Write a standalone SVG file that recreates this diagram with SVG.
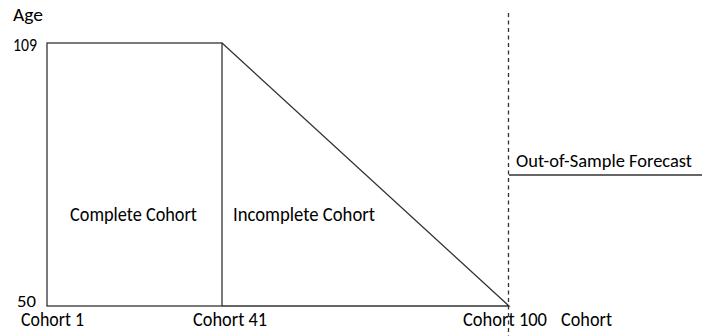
<svg xmlns="http://www.w3.org/2000/svg" width="702" height="336" viewBox="0 0 702 336">
<style>
text{font-family:Carlito,"Liberation Sans",Arial,sans-serif;font-size:19.5px;fill:#000}
.s{font-size:18px}
.m{font-size:21px}
.ln{stroke:#333;stroke-width:1.3;fill:none}
</style>
<rect width="702" height="336" fill="#fff"/>
<g id="axes">
<text class="s" x="13" y="21" textLength="30" lengthAdjust="spacingAndGlyphs">Age</text>
<text class="s" x="13" y="51" textLength="24" lengthAdjust="spacingAndGlyphs">109</text>
<text x="17" y="306.5" style="font-size:17px" textLength="19" lengthAdjust="spacingAndGlyphs">50</text>
<text x="21" y="325.5" textLength="63" lengthAdjust="spacingAndGlyphs">Cohort 1</text>
<text x="193" y="325.5" textLength="74" lengthAdjust="spacingAndGlyphs">Cohort 41</text>
<text x="463" y="325.5" textLength="84" lengthAdjust="spacingAndGlyphs">Cohort 100</text>
<text x="561" y="325.5" textLength="51" lengthAdjust="spacingAndGlyphs">Cohort</text>
</g>
<g id="complete">
<rect class="ln" x="47" y="43" width="175" height="263"/>
<text class="m" x="70" y="221" textLength="127" lengthAdjust="spacingAndGlyphs">Complete Cohort</text>
</g>
<g id="incomplete">
<path class="ln" d="M222 43 L509 306 L222 306"/>
<text class="m" x="233" y="221" textLength="142" lengthAdjust="spacingAndGlyphs">Incomplete Cohort</text>
</g>
<g id="forecast">
<line class="ln" x1="509" y1="175" x2="702" y2="175"/>
<text x="516" y="167" style="font-size:19px" textLength="176" lengthAdjust="spacingAndGlyphs">Out-of-Sample Forecast</text>
</g>
<g id="connectors">
<line x1="508.5" y1="13" x2="508.5" y2="336" stroke="#333" stroke-width="1.3" stroke-dasharray="4 3.5"/>
</g>
</svg>
